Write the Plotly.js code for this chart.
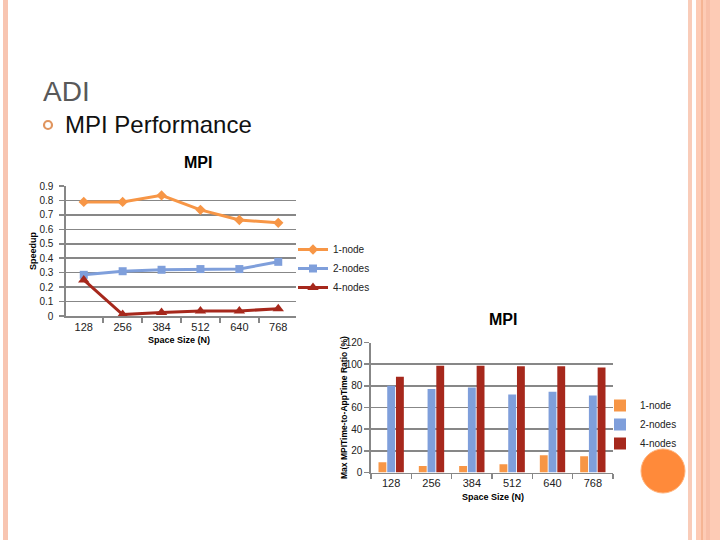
<!DOCTYPE html>
<html>
<head>
<meta charset="utf-8">
<script src="https://cdn.plot.ly/plotly-3.0.1.min.js"></script>
<style>html,body{margin:0;padding:0;background:#fff;}#chart{width:720px;height:540px;}</style>
</head>
<body>
<div id="chart"></div>
<script>
// ---- data ----
const sizes = ['128', '256', '384', '512', '640', '768'];
const seriesNames = ['1-node', '2-nodes', '4-nodes'];
const speedup1 = [0.79, 0.79, 0.835, 0.735, 0.665, 0.645];
const speedup2 = [0.285, 0.31, 0.32, 0.325, 0.325, 0.375];
const speedup4 = [0.25, 0.01, 0.025, 0.035, 0.035, 0.05];
const ratio1 = [9.5, 6, 6, 7.5, 16, 15];
const ratio2 = [80, 77, 78.5, 72, 74.5, 71];
const ratio4 = [88.5, 98.5, 98.5, 98, 98, 97];
const speedupTicks = [0, 0.1, 0.2, 0.3, 0.4, 0.5, 0.6, 0.7, 0.8, 0.9];
const ratioTicks = [0, 20, 40, 60, 80, 100, 120];

const colors = ['#F79646', '#7F9FDB', '#A6281C'];
const symbols = ['diamond', 'square', 'triangle-up'];
const W = 720, H = 540;
const px = x => x / W;
const py = y => 1 - y / H;
const FONT = 'Liberation Sans, Arial, sans-serif';
const GRID = '#878787';

const lineData = [speedup1, speedup2, speedup4];
const barData = [ratio1, ratio2, ratio4];

const traces = [];
lineData.forEach((vals, i) => {
  traces.push({
    type: 'scatter', mode: 'lines+markers', x: sizes, y: vals,
    name: seriesNames[i], xaxis: 'x', yaxis: 'y', legend: 'legend',
    line: {color: colors[i], width: 3},
    marker: {color: colors[i], symbol: symbols[i], size: i === 2 ? 10 : 8}
  });
});
barData.forEach((vals, i) => {
  traces.push({
    type: 'bar', x: sizes, y: vals, name: seriesNames[i],
    xaxis: 'x2', yaxis: 'y2', legend: 'legend2',
    marker: {color: colors[i]}
  });
});

const axisCommon = {
  showline: true, linecolor: GRID, linewidth: 1.6,
  gridcolor: GRID, gridwidth: 1.6,
  ticks: 'outside', ticklen: 5, tickcolor: GRID, tickwidth: 1.5,
  tickfont: {family: FONT, size: 11, color: '#222'},
  zeroline: false, fixedrange: true
};

function note(text, x, y, size, extra) {
  return Object.assign({
    text: text, xref: 'paper', yref: 'paper', x: px(x), y: py(y),
    xanchor: 'center', yanchor: 'middle', showarrow: false,
    font: {family: FONT, size: size, color: '#000'}
  }, extra || {});
}

const layout = {
  width: W, height: H,
  margin: {l: 0, r: 0, t: 0, b: 0},
  paper_bgcolor: '#ffffff', plot_bgcolor: 'rgba(0,0,0,0)',
  showlegend: true,
  barmode: 'group', bargap: 0.35, bargroupgap: 0.1,
  xaxis: Object.assign({}, axisCommon, {
    type: 'category', domain: [px(66), px(296)], anchor: 'y',
    showgrid: false, tickson: 'boundaries'
  }),
  yaxis: Object.assign({}, axisCommon, {
    domain: [py(316), py(186)], anchor: 'x', range: [0, 0.9],
    tickvals: speedupTicks, ticktext: speedupTicks.map(String),
    tickfont: {family: FONT, size: 10, color: '#222'},
    ticklabelstandoff: 4
  }),
  xaxis2: Object.assign({}, axisCommon, {
    type: 'category', domain: [px(371), px(613)], anchor: 'y2',
    showgrid: false, tickson: 'boundaries'
  }),
  yaxis2: Object.assign({}, axisCommon, {
    domain: [py(472.5), py(342.5)], anchor: 'x2', range: [0, 120],
    tickvals: ratioTicks, ticktext: ratioTicks.map(String),
    tickfont: {family: FONT, size: 10, color: '#222'}
  }),
  legend: {
    x: px(293), y: py(235), xanchor: 'left', yanchor: 'top',
    bgcolor: 'rgba(0,0,0,0)', font: {family: FONT, size: 10, color: '#222'},
    itemwidth: 30, tracegroupgap: 0
  },
  legend2: {
    x: px(600), y: py(391), xanchor: 'left', yanchor: 'top',
    bgcolor: 'rgba(0,0,0,0)', font: {family: FONT, size: 10, color: '#222'},
    itemwidth: 30, tracegroupgap: 0
  },
  shapes: [
    // slide borders
    {type: 'rect', xref: 'paper', yref: 'paper', x0: px(3), x1: px(8), y0: 0, y1: 1, fillcolor: '#F8C5B1', line: {width: 0}, layer: 'below'},
    {type: 'rect', xref: 'paper', yref: 'paper', x0: px(688), x1: px(692), y0: 0, y1: 1, fillcolor: '#F9CCB9', line: {width: 0}, layer: 'below'},
    {type: 'rect', xref: 'paper', yref: 'paper', x0: px(696), x1: px(720), y0: 0, y1: 1, fillcolor: '#FDCBB5', line: {width: 0}, layer: 'below'},
    {type: 'rect', xref: 'paper', yref: 'paper', x0: px(706), x1: px(710), y0: 0, y1: 1, fillcolor: '#F8BFA8', line: {width: 0}, layer: 'below'},
    {type: 'line', xref: 'paper', yref: 'paper', x0: px(702), x1: px(702), y0: 0, y1: 1, line: {color: '#EE9E72', width: 1}},
    // bullet
    {type: 'circle', xref: 'paper', yref: 'paper', x0: px(44), x1: px(52), y0: py(129), y1: py(121), line: {color: '#E0955F', width: 2.2}},
    // orange decoration circle
    {type: 'circle', xref: 'paper', yref: 'paper', x0: px(641), x1: px(685), y0: py(493), y1: py(449), fillcolor: '#FF8A3A', line: {color: '#FFB27A', width: 1}}
  ],
  annotations: [
    note('ADI', 41, 91, 28, {xanchor: 'left', font: {family: FONT, size: 28, color: '#595959'}}),
    note('MPI Performance', 63, 124, 24, {xanchor: 'left', font: {family: FONT, size: 24, color: '#111'}}),
    note('<b>MPI</b>', 198, 162, 16),
    note('<b>Space Size (N)</b>', 179, 340, 9),
    note('<b>Speedup</b>', 33, 251, 9, {textangle: -90}),
    note('<b>MPI</b>', 503, 319, 16),
    note('<b>Space Size (N)</b>', 493, 497, 9),
    note('<b>Max MPITime-to-AppTime Ratio (%)</b>', 344, 408, 8.5, {textangle: -90})
  ]
};

Plotly.newPlot('chart', traces, layout, {staticPlot: true, displayModeBar: false});
</script>
</body>
</html>
